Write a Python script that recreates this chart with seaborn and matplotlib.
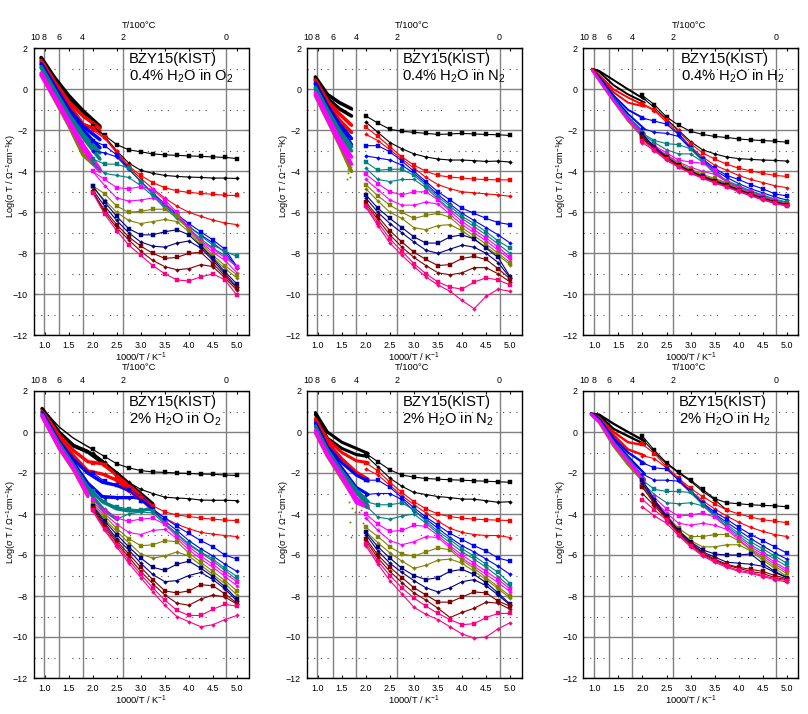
import numpy as np
import pandas as pd
import matplotlib
matplotlib.use("Agg")
import matplotlib.pyplot as plt
import seaborn as sns

nan = float("nan")
K, R, B, T, M, O, N, D, P = ("#000000", "#FF0000", "#0000FF", "#008080", "#FF00FF",
                             "#808000", "#000080", "#800000", "#FF0080")
LOW_COLORS = [K, K, R, R, B, B, T, T, M, M, O, O, N, N, D, D, P, P]
BAND_COLORS = [K, K, R, R, B, B, T, T, O, M, M]
LOW_X = [2.0, 2.25, 2.5, 2.75, 3.0, 3.25, 3.5, 3.75, 4.0, 4.25, 4.5, 4.75, 5.0]
X_TICKS = [1.0, 1.5, 2.0, 2.5, 3.0, 3.5, 4.0, 4.5, 5.0]
Y_TICKS = [-12, -10, -8, -6, -4, -2, 0, 2]
Y_DOTS = [-11, -9, -7, -5, -3, -1, 1]
T_POS = [0.80, 0.99, 1.31, 1.79, 2.64, 4.78]
T_LABELS = ["10", "8", "6", "4", "2", "0"]

TITLE = "BZY15(KIST)"
GASES = [r"0.4% H$_2$O in O$_2$", r"0.4% H$_2$O in N$_2$", r"0.4% H$_2$O in H$_2$",
         r"2% H$_2$O in O$_2$", r"2% H$_2$O in N$_2$", r"2% H$_2$O in H$_2$"]

P1_BAND_X = [0.93, 1.2, 1.5, 1.8, 2.15]
P1_BAND = [
    [1.55, .6, -.3, -1.05, -1.8], [1.5, .5, -.4, -1.2, -1.85],
    [1.4, .4, -.6, -1.3, -1.9], [1.35, .3, -.75, -1.7, -2.05],
    [1.25, .2, -.95, -1.8, -2.45], [1.2, .1, -1.05, -2.0, -2.85],
    [1.1, 0, -1.2, -2.2, -3.1], [1.05, -.05, -1.3, -2.35, -3.4],
    [.7, -.45, -1.75, -3.2, -3.95], [.8, -.3, -1.5, -2.7, -3.9], [.7, -.4, -1.65, -2.9, -4.0]]
P1_LOW = [
    [-1.8, -2.25, -2.7, -2.95, -3.05, -3.15, -3.2, -3.22, -3.25, -3.27, -3.3, -3.32, -3.38],
    [-1.8, -2.3, -3.0, -3.6, -3.95, -4.1, -4.2, -4.25, -4.28, -4.3, -4.33, -4.33, -4.35],
    [-1.9, -2.35, -3.05, -3.75, -4.2, -4.55, -4.8, -4.95, -5.03, -5.08, -5.12, -5.17, -5.18],
    [-2.0, -2.4, -3.1, -3.8, -4.35, -4.85, -5.3, -5.7, -6.0, -6.2, -6.38, -6.52, -6.6],
    [-2.5, -2.75, -3.2, -3.85, -4.5, -5.05, -5.6, -6.1, -6.55, -6.95, -7.35, -7.8, -8.65],
    [-3.0, -3.1, -3.3, -3.9, -4.5, -5.1, -5.7, -6.2, -6.7, -7.1, -7.5, -7.95, -8.7],
    [-3.4, -3.65, -3.65, -3.85, -4.5, -5.1, -5.7, -6.2, -6.7, -7.15, -7.6, -7.9, -8.15],
    [-3.6, -4.1, -4.2, -4.3, -4.7, -5.2, -5.8, -6.3, -6.8, -7.3, -7.75, -8.1, -8.7],
    [-4.0, -4.4, -4.8, -4.85, -4.75, -4.9, -5.4, -6.0, -6.75, -7.4, -7.8, -8.2, -8.65],
    [-4.0, -4.7, -5.3, -5.45, -5.4, -5.3, -5.55, -6.05, -6.8, -7.45, -7.95, -8.35, -8.95],
    [-4.7, -5.1, -5.7, -6.0, -5.95, -5.85, -5.85, -6.2, -6.85, -7.5, -8.1, -8.6, -9.05],
    [-4.8, -5.4, -6.0, -6.4, -6.55, -6.45, -6.35, -6.45, -6.95, -7.6, -8.2, -8.75, -9.2],
    [-4.7, -5.5, -6.2, -6.8, -7.1, -7.1, -6.95, -6.85, -7.1, -7.65, -8.25, -8.9, -9.5],
    [-4.9, -5.7, -6.4, -7.0, -7.45, -7.65, -7.7, -7.5, -7.4, -7.75, -8.35, -9.0, -9.65],
    [-5.0, -5.9, -6.6, -7.2, -7.65, -8.0, -8.25, -8.2, -8.0, -7.95, -8.5, -9.1, -9.7],
    [-5.0, -6.0, -6.75, -7.35, -7.9, -8.35, -8.65, -8.8, -8.75, -8.55, -8.65, -9.2, -9.8],
    [-5.05, -6.1, -6.9, -7.6, -8.1, -8.6, -9.0, -9.3, -9.35, -9.15, -9.0, -9.3, -10.05]]

P2_BAND_X = [0.95, 1.2, 1.45, 1.7]
P2_BAND = [
    [.6, -.25, -.65, -.95], [.5, -.45, -.95, -1.3],
    [.45, -.55, -1.2, -1.75], [.4, -.7, -1.5, -2.1],
    [.3, -.8, -1.7, -2.4], [.25, -.9, -1.85, -2.7],
    [.1, -1.0, -2.0, -2.8], [0, -1.15, -2.15, -3.0],
    [-.3, -1.5, -2.7, -4.0], [-.15, -1.3, -2.4, -3.3], [-.25, -1.45, -2.6, -3.65]]
P2_LOW = [
    [-1.3, -1.65, -1.95, -2.05, -2.1, -2.15, -2.2, -2.18, -2.15, -2.18, -2.2, -2.22, -2.25],
    [-1.6, -2.1, -2.6, -2.9, -3.15, -3.3, -3.4, -3.45, -3.45, -3.48, -3.52, -3.5, -3.55],
    [-1.85, -2.3, -2.8, -3.3, -3.7, -4.0, -4.2, -4.28, -4.33, -4.38, -4.4, -4.42, -4.42],
    [-2.2, -2.5, -2.95, -3.4, -3.85, -4.3, -4.65, -4.85, -5.0, -5.05, -5.1, -5.15, -5.22],
    [-2.75, -2.75, -3.05, -3.5, -4.0, -4.5, -5.0, -5.4, -5.8, -6.05, -6.3, -6.5, -6.6],
    [-3.25, -3.35, -3.45, -3.7, -4.1, -4.6, -5.15, -5.6, -6.05, -6.4, -6.75, -7.1, -7.5],
    [-3.55, -3.95, -3.9, -3.9, -4.2, -4.7, -5.25, -5.7, -6.2, -6.55, -6.95, -7.4, -7.75],
    [-3.85, -4.4, -4.5, -4.4, -4.4, -4.8, -5.35, -5.85, -6.3, -6.7, -7.1, -7.55, -8.0],
    [-4.15, -4.6, -5.0, -5.15, -5.0, -5.0, -5.4, -5.95, -6.45, -6.85, -7.25, -7.7, -8.2],
    [-4.4, -4.9, -5.4, -5.65, -5.65, -5.5, -5.6, -6.1, -6.6, -7.0, -7.4, -7.85, -8.3],
    [-4.65, -5.2, -5.65, -6.0, -6.3, -6.15, -6.05, -6.25, -6.75, -7.15, -7.55, -8.0, -8.45],
    [-4.85, -5.45, -6.0, -6.3, -6.75, -6.85, -6.65, -6.6, -6.9, -7.3, -7.7, -8.1, -8.55],
    [-5.15, -5.8, -6.3, -6.75, -7.2, -7.5, -7.5, -7.2, -7.1, -7.3, -7.75, -8.2, -9.15],
    [-5.3, -6.0, -6.55, -7.0, -7.45, -7.85, -8.0, -7.8, -7.6, -7.7, -8.0, -8.45, -9.2],
    [-5.5, -6.2, -6.9, -7.45, -7.95, -8.3, -8.6, -8.55, -8.25, -8.15, -8.3, -8.75, -9.25],
    [-5.6, -6.35, -7.1, -7.7, -8.2, -8.6, -8.95, -9.05, -8.95, -8.7, -8.7, -9.0, -9.4],
    [-5.7, -6.5, -7.3, -7.9, -8.5, -9.0, -9.4, -9.65, -9.75, -9.4, -9.2, -9.3, -9.55],
    [-5.75, -6.65, -7.5, -8.1, -8.65, -9.15, -9.55, -9.85, -10.3, -10.7, -10.1, -9.75, -9.85]]
P2_DOTS_X = [1.63, 1.6, 1.62, 1.58, 1.7, 1.68]
P2_DOTS_Y = [-3.9, -4.4, -4.1, -3.5, -3.8, -4.3]

P3_BAND_X = [0.95, 1.1, 1.4, 1.7, 2.05]
P3_BAND = [
    [1.0, .9, .45, 0, -.5], [1.0, .85, .2, -.25, -.65],
    [1.0, .7, 0, -.4, -.8], [1.0, .65, -.15, -.65, -.85],
    [.95, .6, -.3, -1.0, -1.45], [.95, .55, -.4, -1.2, -1.95],
    [.95, .5, -.45, -1.35, -2.15], [.95, .5, -.5, -1.4, -2.2],
    [.9, .4, -.6, -1.55, -2.45], [.95, .45, -.55, -1.45, -2.3], [.95, .43, -.57, -1.5, -2.35]]
P3_LOW = [
    [-.3, -.75, -1.35, -1.75, -2.05, -2.2, -2.3, -2.35, -2.42, -2.47, -2.5, -2.53, -2.58],
    [-.4, -.9, -1.45, -2.0, -2.55, -2.95, -3.15, -3.3, -3.38, -3.42, -3.45, -3.47, -3.5],
    [-.7, -1.0, -1.5, -2.05, -2.65, -3.1, -3.4, -3.65, -3.85, -3.98, -4.1, -4.2, -4.25],
    [-.75, -1.05, -1.6, -2.15, -2.8, -3.3, -3.7, -3.95, -4.2, -4.4, -4.55, -4.7, -4.8],
    [-1.4, -1.55, -1.7, -2.2, -2.85, -3.4, -3.85, -4.2, -4.4, -4.65, -4.85, -5.1, -5.2],
    [-1.9, -2.1, -2.15, -2.3, -2.9, -3.45, -3.95, -4.3, -4.6, -4.85, -5.05, -5.25, -5.4],
    [-2.15, -2.5, -2.65, -2.7, -2.9, -3.5, -4.05, -4.45, -4.7, -4.95, -5.15, -5.35, -5.5],
    [-2.2, -2.6, -2.95, -3.15, -3.15, -3.55, -4.1, -4.5, -4.75, -5.0, -5.2, -5.38, -5.55],
    [-2.3, -2.75, -3.1, -3.45, -3.55, -3.6, -3.95, -4.5, -4.8, -5.02, -5.22, -5.42, -5.6],
    [-2.35, -2.8, -3.2, -3.55, -3.8, -4.0, -4.15, -4.5, -4.82, -5.05, -5.25, -5.45, -5.6],
    [-2.4, -2.85, -3.25, -3.6, -3.9, -4.15, -4.35, -4.55, -4.85, -5.07, -5.27, -5.45, -5.6],
    [-2.45, -2.87, -3.3, -3.65, -3.95, -4.2, -4.4, -4.6, -4.88, -5.1, -5.3, -5.47, -5.62],
    [-2.2, -2.8, -3.3, -3.7, -4.0, -4.25, -4.45, -4.65, -4.9, -5.1, -5.3, -5.48, -5.62],
    [-2.3, -2.85, -3.3, -3.7, -4.0, -4.25, -4.47, -4.68, -4.92, -5.12, -5.32, -5.5, -5.63],
    [-2.35, -2.9, -3.35, -3.72, -4.02, -4.27, -4.5, -4.7, -4.93, -5.13, -5.33, -5.5, -5.64],
    [-2.4, -2.92, -3.37, -3.75, -4.05, -4.3, -4.52, -4.72, -4.95, -5.15, -5.35, -5.52, -5.65],
    [-2.5, -2.95, -3.42, -3.78, -4.07, -4.32, -4.55, -4.75, -4.97, -5.17, -5.37, -5.53, -5.67],
    [-2.6, -3.0, -3.47, -3.8, -4.1, -4.35, -4.57, -4.77, -5.0, -5.2, -5.4, -5.57, -5.7]]

P4_THIN_X = [0.95, 1.3, 1.6, 2.0]
P4_THIN_Y = [1.15, .25, -.3, -.85]
P4_BAND_X = [0.95, 1.3, 1.6, 1.9, 2.2, 2.5, 2.75, 3.0, 3.25]
P4_BAND = [
    [1.15, 0, -.65, -.95, -1.45, -2.0, -2.5, -3.0, -3.5],
    [1.12, -.02, -.68, -.98, -1.5, -2.05, -2.55, -3.05, -3.55],
    [1.05, -.15, -.9, -1.45, -1.55, -2.1, -2.6, -3.1, -3.65],
    [1.0, -.3, -1.15, -1.9, -2.05, -2.35, -2.75, -3.25, -3.8],
    [.95, -.45, -1.35, -2.0, -2.45, -2.6, -2.85, -3.2, -3.7],
    [.9, -.5, -1.5, -2.5, -3.15, -3.2, -3.2, -3.15, -3.8],
    [.85, -.55, -1.6, -2.7, -3.4, -3.75, -3.85, -3.85, -3.7],
    [.8, -.6, -1.65, -2.85, -3.75, -4.25, nan, nan, nan],
    [.75, -.8, -1.85, -3.15, nan, nan, nan, nan, nan],
    [.8, -.7, -1.75, -3.0, nan, nan, nan, nan, nan],
    [.75, -.75, -1.8, -3.1, nan, nan, nan, nan, nan]]
P4_LOW = [
    [-.85, -1.2, -1.55, -1.75, -1.88, -1.95, -1.97, -2.0, -2.02, -2.05, -2.06, -2.1, -2.12],
    [-1.0, -1.45, -2.0, -2.45, -2.8, -3.0, -3.18, -3.22, -3.25, -3.32, -3.33, -3.33, -3.35],
    [-1.5, -1.6, -2.2, -2.8, -3.2, -3.6, -3.9, -4.05, -4.12, -4.2, -4.25, -4.3, -4.32],
    [-2.0, -2.05, -2.4, -2.9, -3.35, -3.8, -4.2, -4.5, -4.72, -4.9, -4.98, -5.05, -5.1],
    [-2.0, -2.4, -2.6, -2.85, -3.35, -3.75, -4.2, -4.6, -4.95, -5.3, -5.6, -6.0, -6.2],
    [-2.75, -3.2, -3.22, -3.2, -3.3, -3.8, -4.35, -4.8, -5.3, -5.7, -6.05, -6.45, -6.8],
    [-2.9, -3.4, -3.65, -3.75, -3.8, -3.85, -4.45, -4.95, -5.45, -5.85, -6.2, -6.65, -7.05],
    [-3.1, -3.75, -4.25, -4.0, -3.9, -3.95, -4.5, -5.0, -5.5, -5.9, -6.3, -6.75, -7.2],
    [-3.3, -3.85, -4.2, -4.35, -4.25, -4.2, -4.5, -5.1, -5.6, -6.05, -6.45, -6.9, -7.3],
    [-3.4, -4.0, -4.5, -4.9, -5.0, -4.8, -4.75, -5.2, -5.75, -6.2, -6.6, -7.05, -7.5],
    [-3.5, -4.1, -4.7, -5.2, -5.55, -5.5, -5.3, -5.35, -5.9, -6.35, -6.8, -7.25, -7.75],
    [-3.55, -4.25, -4.85, -5.4, -5.95, -6.15, -6.05, -5.85, -6.05, -6.5, -6.95, -7.4, -7.95],
    [-3.6, -4.35, -5.0, -5.6, -6.15, -6.6, -6.75, -6.45, -6.3, -6.65, -7.05, -7.55, -8.15],
    [-3.65, -4.45, -5.2, -5.75, -6.4, -6.95, -7.3, -7.25, -7.0, -6.85, -7.2, -7.65, -8.25],
    [-3.7, -4.55, -5.3, -5.95, -6.6, -7.2, -7.75, -7.85, -7.75, -7.45, -7.5, -7.9, -8.35],
    [-3.75, -4.65, -5.4, -6.1, -6.8, -7.4, -7.95, -8.35, -8.45, -8.15, -7.95, -8.05, -8.4],
    [-3.8, -4.75, -5.5, -6.25, -6.95, -7.6, -8.2, -8.7, -8.95, -8.95, -8.65, -8.4, -8.5],
    [-3.85, -4.8, -5.6, -6.4, -7.1, -7.8, -8.45, -9.0, -9.25, -9.5, -9.4, -9.15, -8.95]]

P5_BAND_X = [0.95, 1.2, 1.5, 1.8, 2.05]
P5_BAND = [
    [.95, 0, -.5, -.8, -1.05], [.85, -.3, -.8, -1.1, -1.2],
    [.65, -.35, -1.0, -1.4, -1.5], [.55, -.5, -1.3, -1.95, -2.3],
    [.45, -.7, -1.5, -2.1, -2.4], [.4, -.8, -1.75, -2.7, -3.05],
    [.3, -.85, -1.9, -2.8, -3.4], [.25, -.9, -2.0, -2.95, -3.6],
    [-.05, -1.2, -2.3, -3.4, -3.7], [.1, -1.05, -2.1, -3.2, -3.7], [0, -1.15, -2.2, -3.45, -3.7]]
P5_LOW = [
    [-1.05, -1.45, -1.85, -2.1, -2.2, -2.27, -2.3, -2.33, -2.35, -2.38, -2.4, -2.43, -2.45],
    [-1.15, -1.7, -2.25, -2.65, -2.95, -3.05, -3.15, -3.2, -3.27, -3.28, -3.35, -3.43, -3.4],
    [-1.5, -1.9, -2.45, -2.95, -3.4, -3.75, -4.0, -4.13, -4.2, -4.25, -4.28, -4.3, -4.32],
    [-1.8, -2.1, -2.6, -3.1, -3.55, -3.95, -4.35, -4.7, -4.9, -5.0, -5.05, -5.05, -5.15],
    [-2.35, -2.35, -2.7, -3.2, -3.7, -4.15, -4.55, -4.95, -5.25, -5.55, -5.8, -6.15, -6.3],
    [-3.05, -3.0, -3.0, -3.3, -3.85, -4.25, -4.7, -5.15, -5.55, -5.85, -6.2, -6.55, -6.95],
    [-3.4, -3.55, -3.55, -3.45, -3.8, -4.35, -4.85, -5.25, -5.7, -6.05, -6.45, -6.85, -7.4],
    [-3.6, -4.15, -4.25, -4.1, -4.0, -4.45, -4.95, -5.4, -5.85, -6.2, -6.6, -7.05, -7.55],
    [-4.0, -4.5, -4.85, -4.8, -4.55, -4.6, -5.05, -5.55, -6.0, -6.4, -6.8, -7.2, -7.65],
    [-4.2, -4.8, -5.3, -5.5, -5.35, -5.1, -5.15, -5.65, -6.15, -6.55, -6.95, -7.35, -7.8],
    [-4.65, -5.1, -5.6, -5.95, -6.05, -5.85, -5.65, -5.75, -6.25, -6.65, -7.1, -7.55, -8.0],
    [-4.85, -5.4, -5.9, -6.3, -6.65, -6.5, -6.25, -6.2, -6.4, -6.8, -7.2, -7.65, -8.1],
    [-4.9, -5.6, -6.15, -6.65, -7.0, -7.2, -7.1, -6.8, -6.7, -6.95, -7.35, -7.85, -8.4],
    [-5.0, -5.8, -6.4, -6.85, -7.25, -7.6, -7.8, -7.6, -7.3, -7.2, -7.5, -7.95, -8.45],
    [-5.2, -6.0, -6.6, -7.1, -7.6, -7.95, -8.3, -8.3, -8.05, -7.8, -7.85, -8.25, -8.5],
    [-5.3, -6.15, -6.8, -7.35, -7.85, -8.2, -8.6, -9.05, -8.8, -8.6, -8.3, -8.35, -8.65],
    [-5.45, -6.3, -7.0, -7.6, -8.1, -8.5, -8.85, -9.15, -9.4, -9.35, -9.05, -8.85, -8.85],
    [-5.55, -6.45, -7.25, -7.9, -8.55, -8.9, -9.15, -9.5, -9.85, -10.05, -10.0, -9.6, -9.3]]
P5_DOTS_X = [1.65, 1.72, 1.9, 1.97, 1.7, 1.68, 1.78, 1.85, 2.0, 1.95]
P5_DOTS_Y = [-3.4, -3.7, -3.8, -4.0, -5.1, -4.4, -3.9, -3.9, -3.9, -4.45]

P6_BAND_X = [0.93, 1.1, 1.4, 1.7, 2.05]
P6_BAND = [
    [.9, .85, .4, 0, -.45], [.9, .8, .15, -.2, -.6],
    [.9, .7, 0, -.5, -.65], [.9, .7, -.15, -.85, -1.15],
    [.9, .65, -.3, -1.0, -1.55], [.9, .6, -.4, -1.2, -2.05],
    [.9, .55, -.5, -1.3, -2.3], [.85, .55, -.5, -1.35, -2.35],
    [.85, .45, -.7, -1.6, -2.5], [.85, .5, -.55, -1.4, -2.35], [.85, .5, -.6, -1.45, -2.45]]
P6_LOW = [
    [-.2, -.9, -1.5, -1.95, -2.35, -2.8, -3.25, -3.45, -3.5, -3.55, -3.58, -3.6, -3.65],
    [-.35, -1.0, -1.55, -2.0, -2.4, -2.9, -3.3, -3.8, nan, nan, nan, nan, nan],
    [-.6, -1.05, -1.7, -2.25, -2.75, -3.15, -3.5, -3.8, -4.0, -4.15, -4.28, -4.35, -4.42],
    [-1.15, -1.3, -1.75, -2.3, -2.85, -3.35, -3.75, -4.1, -4.4, -4.65, -4.85, -5.0, -5.1],
    [-1.5, -1.75, -1.8, -2.35, -2.9, -3.45, -3.9, -4.25, -4.65, -5.0, -5.3, -5.6, -5.9],
    [-2.05, -2.35, -2.35, -2.4, -2.95, -3.5, -4.0, -4.4, -4.8, -5.2, -5.55, -5.9, -6.2],
    [-2.35, -2.8, -2.9, -2.9, -2.95, -3.55, -4.05, -4.5, -4.95, -5.35, -5.7, -6.05, -6.4],
    [-2.5, -3.05, -3.45, -3.5, -3.45, -3.6, -4.1, -4.6, -5.05, -5.5, -5.85, -6.2, -6.55],
    [-2.55, -3.2, -3.75, -4.1, -4.05, -3.95, -4.15, -4.65, -5.15, -5.6, -5.95, -6.35, -6.7],
    [-2.6, -3.35, -3.95, -4.45, -4.55, -4.45, -4.55, -4.75, -5.25, -5.7, -6.05, -6.45, -6.8],
    [-2.65, -3.4, -4.05, -4.7, -5.1, -5.1, -5.0, -5.0, -5.3, -5.75, -6.15, -6.55, -6.9],
    [-2.7, -3.45, -4.1, -4.8, -5.3, -5.6, -5.6, -5.5, -5.5, -5.8, -6.25, -6.65, -7.05],
    [-2.35, -3.3, -4.1, -4.8, -5.35, -5.75, -5.95, -6.0, -6.0, -5.95, -6.4, -6.8, -7.1],
    [-2.5, -3.4, -4.15, -4.85, -5.4, -5.85, -6.1, -6.35, -6.4, -6.45, -6.55, -6.85, -7.1],
    [-2.7, -3.5, -4.2, -4.9, -5.45, -5.9, -6.2, -6.45, -6.6, -6.7, -6.8, -7.0, -7.15],
    [-3.0, -3.6, -4.25, -4.95, -5.5, -5.95, -6.25, -6.5, -6.65, -6.8, -6.9, -7.1, -7.2],
    [-3.3, -3.8, -4.3, -5.0, -5.55, -6.0, -6.3, -6.55, -6.75, -6.85, -7.0, -7.15, -7.25],
    [-3.65, -4.1, -4.45, -5.05, -5.6, -6.05, -6.35, -6.6, -6.8, -6.9, -7.05, -7.2, -7.32]]

BAND_XS = [P1_BAND_X, P2_BAND_X, P3_BAND_X, P4_BAND_X, P5_BAND_X, P6_BAND_X]
BANDS = [P1_BAND, P2_BAND, P3_BAND, P4_BAND, P5_BAND, P6_BAND]
LOWS = [P1_LOW, P2_LOW, P3_LOW, P4_LOW, P5_LOW, P6_LOW]
BAND_LW = [2.6, 2.6, 1.4, 2.4, 2.2, 1.7]

sns.set_theme(style="white")
plt.rcParams["font.family"] = ["Liberation Sans", "DejaVu Sans"]
plt.rcParams["mathtext.fontset"] = "custom"
plt.rcParams["mathtext.rm"] = "Liberation Sans"
plt.rcParams["mathtext.it"] = "Liberation Sans"
plt.rcParams["mathtext.default"] = "regular"

W, H = 808, 714
fig = plt.figure(figsize=(W / 100, H / 100), dpi=100, facecolor="white")
LEFTS = [33.5, 306.7, 583.3]
TOPS = [48.3, 391.0]
AW, AH = 215.0, 287.0
TS = 6.4
GRAY = "#808080"


def line(ax, x, y, color, lw, marker=None, ms=0.0):
    df = pd.DataFrame({"x": x, "y": y})
    sns.lineplot(data=df, x="x", y="y", color=color, lw=lw, marker=marker, ms=ms,
                 mew=0.3, mec=color, estimator=None, sort=False, ax=ax, legend=False,
                 errorbar=None, clip_on=True)


for i in range(6):
    row, col = divmod(i, 3)
    ax = fig.add_axes([LEFTS[col] / W, 1 - (TOPS[row] + AH) / H, AW / W, AH / H])
    ax.set_xlim(0.77, 5.24)
    ax.set_ylim(-12, 2)
    for y in Y_TICKS:
        ax.axhline(y, color=GRAY, lw=1.0, zorder=1)
    for y in Y_DOTS:
        ax.axhline(y, color="#505050", lw=0.8, zorder=1,
                   linestyle=(0, (1, 5, 1, 5, 1, 5, 1, 15)))
    for x in T_POS[1:]:
        ax.axvline(x, color=GRAY, lw=1.0, zorder=1)

    for color, ys in zip(BAND_COLORS, BANDS[i]):
        line(ax, BAND_XS[i], ys, color, BAND_LW[i])
    if i == 3:
        line(ax, P4_THIN_X, P4_THIN_Y, K, 1.0)
    if i == 1:
        sns.scatterplot(x=P2_DOTS_X, y=P2_DOTS_Y, color=O, s=2, linewidth=0, ax=ax)
    if i == 4:
        sns.scatterplot(x=P5_DOTS_X[:7], y=P5_DOTS_Y[:7], color=O, s=2, linewidth=0, ax=ax)
        sns.scatterplot(x=P5_DOTS_X[7:], y=P5_DOTS_Y[7:], color=M, s=2, linewidth=0, ax=ax)
    for j, (color, ys) in enumerate(zip(LOW_COLORS, LOWS[i])):
        line(ax, LOW_X, ys, color, 0.8, "s" if j % 2 == 0 else "D", 2.3 if j % 2 == 0 else 1.9)

    ax.set_xticks(X_TICKS)
    ax.set_yticks(Y_TICKS)
    ax.set_xticklabels([f"{v:.1f}" for v in X_TICKS])
    ax.tick_params(axis="both", which="major", direction="in", length=2.5, width=0.8,
                   top=True, right=True, bottom=True, left=True, labelsize=TS, pad=4,
                   color="black", labelcolor="black", zorder=5)
    for s in ax.spines.values():
        s.set_visible(True)
        s.set_color("black")
        s.set_linewidth(1.0)
        s.set_zorder(10)

    ax.set_xlabel("1000/T / K$^{-1}$", fontsize=TS + 0.3, color="black")
    ax.xaxis.set_label_coords(0.5, -22 / AH)
    ax.xaxis.label.set_verticalalignment("center")
    ax.set_ylabel(r"Log($\sigma$ T / $\Omega^{-1}$cm$^{-1}$K)", fontsize=6.6, color="black")
    ax.yaxis.set_label_coords(-0.105, 0.557 if row == 0 else 0.544)
    ax.yaxis.label.set_verticalalignment("center")

    sec = ax.secondary_xaxis("top")
    sec.set_xticks(T_POS)
    sec.set_xticklabels(T_LABELS, fontsize=TS, color="black")
    sec.tick_params(length=0, pad=4.5)
    sec.spines["top"].set_visible(False)
    ax.text(0.49, 1 + 23 / AH, "T/100°C", transform=ax.transAxes, ha="center", va="center",
            fontsize=TS + 0.3, color="black")

    tx = 0.454 if i == 2 else 0.445
    ax.text(tx, 1 - 11 / AH, TITLE, transform=ax.transAxes, fontsize=10.6, va="center",
            ha="left", color="black", zorder=12)
    ax.text(tx, 1 - 28 / AH, GASES[i], transform=ax.transAxes, fontsize=10.6, va="center",
            ha="left", color="black", zorder=12)

fig.savefig("out.png", dpi=100, facecolor="white")
